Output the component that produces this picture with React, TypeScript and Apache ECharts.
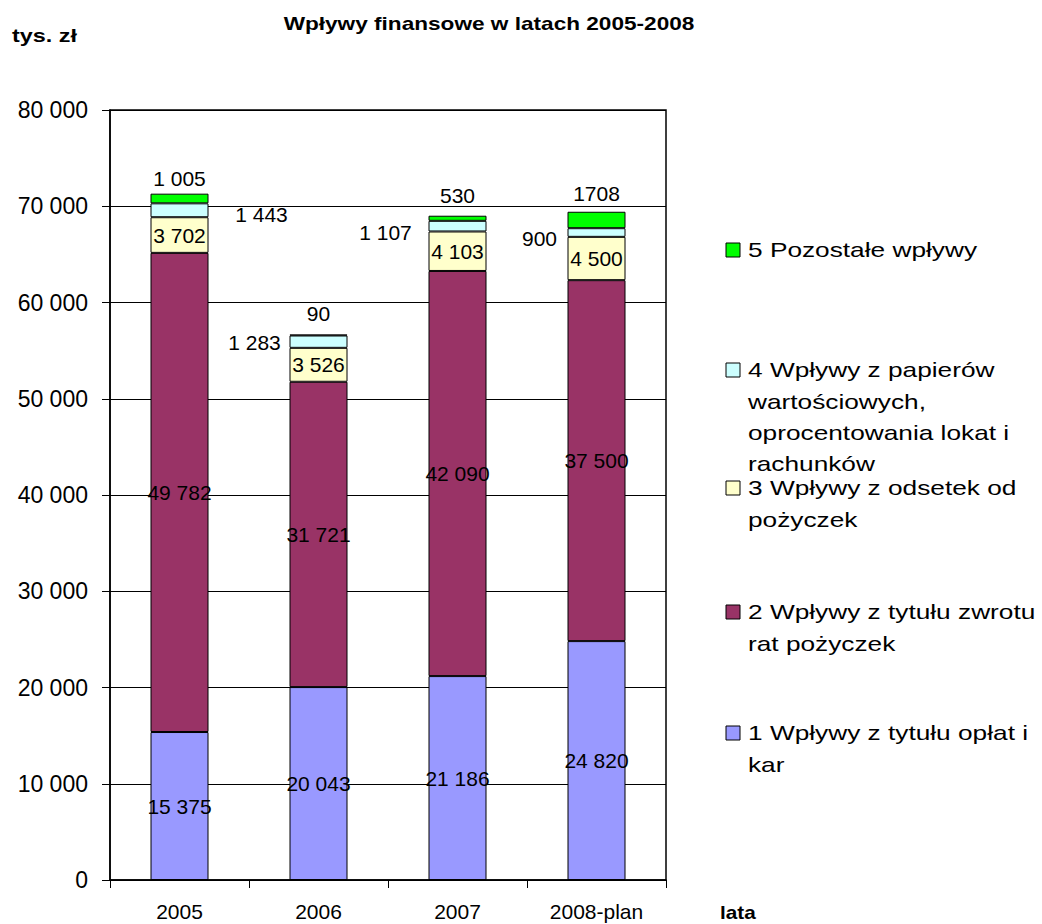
import React, { useEffect, useRef } from "react";
import * as echarts from "echarts";

const categories = ["2005", "2006", "2007", "2008-plan"];
const seriesNames = [
  "1 Wpływy z tytułu opłat i kar",
  "2 Wpływy z tytułu zwrotu rat pożyczek",
  "3 Wpływy z odsetek od pożyczek",
  "4 Wpływy z papierów wartościowych, oprocentowania lokat i rachunków",
  "5 Pozostałe wpływy",
];
const fees = [15375, 20043, 21186, 24820];
const loanRepayments = [49782, 31721, 42090, 37500];
const loanInterest = [3702, 3526, 4103, 4500];
const securities = [1443, 1283, 1107, 900];
const other = [1005, 90, 530, 1708];
const legendLines = [
  ["1 Wpływy z tytułu opłat i", "kar"],
  ["2 Wpływy z tytułu zwrotu", "rat pożyczek"],
  ["3 Wpływy z odsetek od", "pożyczek"],
  ["4 Wpływy z papierów", "wartościowych,", "oprocentowania lokat i", "rachunków"],
  ["5 Pozostałe wpływy"],
];
const yMin = 0;
const yMax = 80000;
const yInterval = 10000;

const colors = ["#9999FF", "#993366", "#FFFFCC", "#CCFFFF", "#00FF00"];
const FONT = "'Liberation Sans', Arial, sans-serif";

// label placement (styling)
const labelOffsets: number[][][] = [
  [[0, 0], [0, 0], [0, 0], [0, 0]],
  [[0, 0], [0, 0], [0, 0], [0, 0]],
  [[0, 0], [0, 0], [0, 0], [0, 0]],
  [[82, 4], [-64, 1], [-72, 6], [-57, 6]],
  [[0, -20], [0, -22], [0, -23], [0, -26]],
];
const legendY = [733, 612, 488, 370, 250];

function fmt(n: number): string {
  return String(n).replace(/\B(?=(\d{3})+(?!\d))/g, " ");
}

export default function App() {
  const ref = useRef<HTMLDivElement>(null);
  useEffect(() => {
    if (!ref.current) return;
    const chart = echarts.init(ref.current, undefined, { renderer: "svg" });
    const allData = [fees, loanRepayments, loanInterest, securities, other];

    const series = allData.map((arr, si) => ({
      name: seriesNames[si],
      type: "bar",
      stack: "total",
      barWidth: 58,
      itemStyle: { color: colors[si], borderColor: "#000", borderWidth: 1 },
      label: {
        show: true,
        position: "inside",
        color: "#000",
        fontSize: 21,
        fontFamily: FONT,
        textBorderWidth: 0,
        formatter: (p: any) => fmt(p.value),
      },
      emphasis: { disabled: true },
      data: arr.map((v, i) => {
        const lbl: any = { offset: labelOffsets[si][i] };
        if (si === 4 && i === 3) lbl.formatter = "{c}";
        return { value: v, label: lbl };
      }),
    }));

    const graphics: any[] = [
      {
        type: "text",
        x: 489,
        y: 23,
        scaleX: 1.19,
        style: {
          text: "Wpływy finansowe w latach 2005-2008",
          fontFamily: FONT,
          fontSize: 19,
          fontWeight: "bold",
          fill: "#000",
          textAlign: "center",
          textVerticalAlign: "middle",
        },
      },
      {
        type: "text",
        x: 12,
        y: 36,
        scaleX: 1.3,
        style: {
          text: "tys. zł",
          fontFamily: FONT,
          fontSize: 18,
          fontWeight: "bold",
          fill: "#000",
          textAlign: "left",
          textVerticalAlign: "middle",
        },
      },
      {
        type: "text",
        x: 720,
        y: 913,
        scaleX: 1.15,
        style: {
          text: "lata",
          fontFamily: FONT,
          fontSize: 18,
          fontWeight: "bold",
          fill: "#000",
          textAlign: "left",
          textVerticalAlign: "middle",
        },
      },
    ];
    legendLines.forEach((lines, si) => {
      const cy = legendY[si];
      graphics.push({
        type: "rect",
        shape: { x: 726, y: cy - 7, width: 14, height: 14 },
        style: { fill: colors[si], stroke: "#000", lineWidth: 1 },
      });
      graphics.push({
        type: "text",
        x: 748,
        y: cy - 15.5,
        scaleX: 1.25,
        style: {
          text: lines.join("\n"),
          fontFamily: FONT,
          fontSize: 21,
          lineHeight: 31,
          fill: "#000",
          textAlign: "left",
          textVerticalAlign: "top",
        },
      });
    });

    chart.setOption({
      animation: false,
      backgroundColor: "#fff",
      grid: {
        left: 110,
        right: 376,
        top: 110,
        bottom: 44,
        show: true,
        borderColor: "#000",
        borderWidth: 1.5,
        backgroundColor: "transparent",
      },
      xAxis: {
        type: "category",
        data: categories,
        axisLine: { show: true, lineStyle: { color: "#000", width: 1.5 } },
        axisTick: { show: true, length: 8, lineStyle: { color: "#000" } },
        axisLabel: { color: "#000", fontSize: 21, fontFamily: FONT, margin: 21 },
      },
      yAxis: {
        type: "value",
        min: yMin,
        max: yMax,
        interval: yInterval,
        axisLine: { show: true, lineStyle: { color: "#000", width: 1.5 } },
        axisTick: { show: true, length: 8, lineStyle: { color: "#000" } },
        splitLine: { show: true, lineStyle: { color: "#000", width: 1 } },
        axisLabel: {
          color: "#000",
          fontSize: 23,
          fontFamily: FONT,
          margin: 22,
          formatter: (v: number) => fmt(v),
        },
      },
      series,
      graphic: graphics,
    });
    return () => chart.dispose();
  }, []);
  return (
    <div
      ref={ref}
      style={{ position: "fixed", left: 0, top: 0, width: 1042, height: 924 }}
    />
  );
}
